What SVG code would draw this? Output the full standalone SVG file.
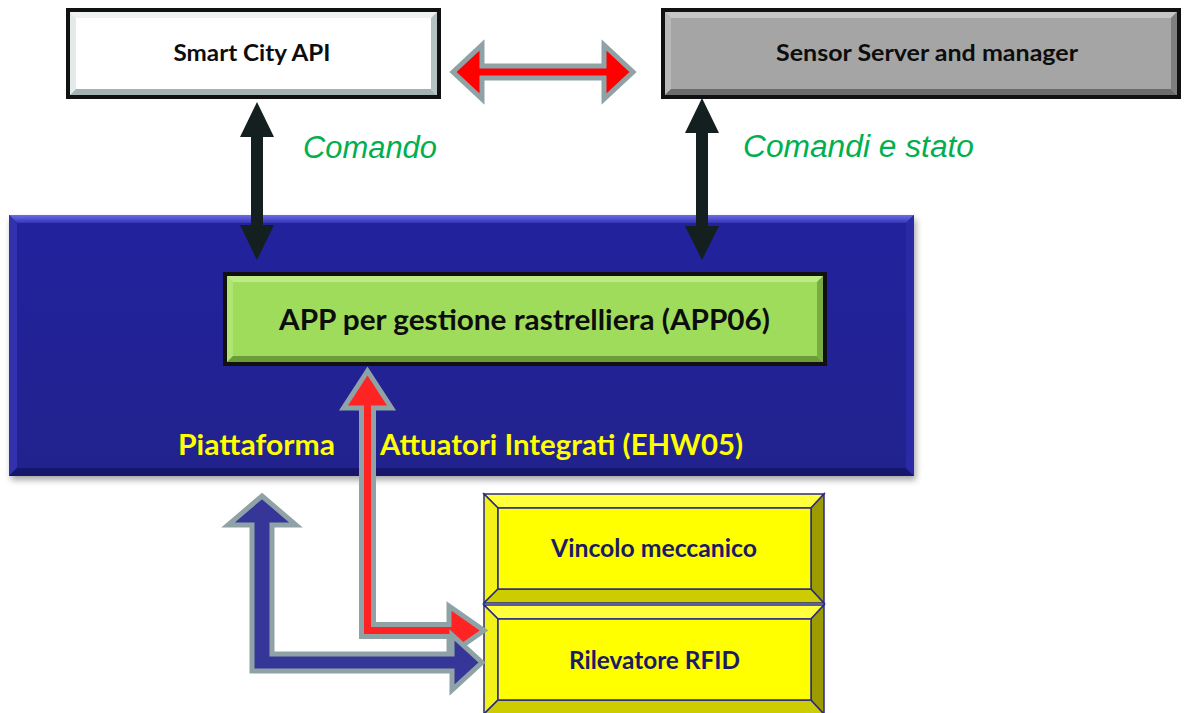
<svg xmlns="http://www.w3.org/2000/svg" width="1186" height="713" viewBox="0 0 1186 713">
  <style>
    .lbl { font-family: Lato, "Open Sans", "Liberation Sans", sans-serif; font-weight: bold; }
    .dark { fill: #0d0d0d; font-size: 22.5px; }
    .app { fill: #0d0d0d; font-size: 28.5px; }
    .plat { fill: #ffff00; font-size: 28.5px; }
    .navy { fill: #1a1a66; font-size: 24px; }
    .flow { font-family: "Liberation Sans", Arial, sans-serif; font-style: italic; font-size: 31px; fill: #00b050; }
    .frame { fill: none; stroke: #111; stroke-width: 4; }
    .ybox { stroke: #2a2a86; stroke-width: 1.5; stroke-linejoin: miter; }
    .fat { stroke: #8fa3a6; stroke-width: 5; stroke-linejoin: miter; }
    .thin { fill: #13201f; }
  </style>
  <defs>
    <filter id="panelShadow" x="-5%" y="-5%" width="110%" height="115%">
      <feDropShadow dx="2" dy="4" stdDeviation="3" flood-color="#000" flood-opacity="0.35"/>
    </filter>
    <linearGradient id="blueTop" x1="0" y1="0" x2="0" y2="1">
      <stop offset="0" stop-color="#6c6cec"/>
      <stop offset="1" stop-color="#3636b4"/>
    </linearGradient>
    <linearGradient id="blueFace" x1="0" y1="0" x2="0" y2="1">
      <stop offset="0" stop-color="#24249e"/>
      <stop offset="1" stop-color="#20208e"/>
    </linearGradient>
  </defs>

  <!-- platform panel -->
  <g id="platform">
    <g filter="url(#panelShadow)">
      <rect x="9" y="215" width="905" height="261" fill="url(#blueFace)"/>
      <polygon points="9,215 914,215 906,223 17,223" fill="url(#blueTop)"/>
      <polygon points="9,215 17,223 17,468 9,476" fill="#3030ac"/>
      <polygon points="9,476 17,468 906,468 914,476" fill="#16166c"/>
      <polygon points="914,215 914,476 906,468 906,223" fill="#2c2ca6"/>
    </g>
    <text class="lbl plat" x="178" y="455" textLength="157" lengthAdjust="spacingAndGlyphs">Piattaforma</text>
    <text class="lbl plat" x="380" y="455" textLength="363" lengthAdjust="spacingAndGlyphs">Attuatori Integrati (EHW05)</text>
  </g>

  <!-- Smart City API -->
  <g id="smart-city-api">
    <rect x="70" y="12" width="367" height="83" fill="#ffffff"/>
    <polygon points="70,12 437,12 431,18 76,18" fill="#eef2f2"/>
    <polygon points="70,12 76,18 76,89 70,95" fill="#e4eaea"/>
    <polygon points="70,95 76,89 431,89 437,95" fill="#a3b2b2"/>
    <polygon points="437,12 437,95 431,89 431,18" fill="#b6c2c2"/>
    <rect class="frame" x="68" y="10" width="371" height="87"/>
    <text class="lbl dark" x="252" y="61" text-anchor="middle" textLength="157" lengthAdjust="spacingAndGlyphs">Smart City API</text>
  </g>

  <!-- Sensor Server and manager -->
  <g id="sensor-server">
    <rect x="665" y="12" width="512" height="83" fill="#a5a5a5"/>
    <polygon points="665,12 1177,12 1171,18 671,18" fill="#c6c6c6"/>
    <polygon points="665,12 671,18 671,89 665,95" fill="#b9b9b9"/>
    <polygon points="665,95 671,89 1171,89 1177,95" fill="#6c6c6c"/>
    <polygon points="1177,12 1177,95 1171,89 1171,18" fill="#7e7e7e"/>
    <rect class="frame" x="663" y="10" width="516" height="87"/>
    <text class="lbl dark" x="927" y="61" text-anchor="middle" textLength="302" lengthAdjust="spacingAndGlyphs">Sensor Server and manager</text>
  </g>

  <!-- application box -->
  <g id="app06">
    <rect x="227" y="276" width="596" height="86" fill="#a0dc5c"/>
    <polygon points="227,276 823,276 817,282 233,282" fill="#bdec86"/>
    <polygon points="227,276 233,282 233,356 227,362" fill="#b0e473"/>
    <polygon points="227,362 233,356 817,356 823,362" fill="#6c9c38"/>
    <polygon points="823,276 823,362 817,356 817,282" fill="#7aac44"/>
    <rect class="frame" x="225" y="274" width="600" height="90"/>
    <text class="lbl app" x="524.5" y="330" text-anchor="middle" textLength="491" lengthAdjust="spacingAndGlyphs">APP per gestione rastrelliera (APP06)</text>
  </g>

  <!-- mechanical lock -->
  <g id="vincolo">
    <polygon class="ybox" points="484,494 824,494 811,508 498,508" fill="#ffff3c"/>
    <polygon class="ybox" points="484,494 498,508 498,589 484,603" fill="#f2f218"/>
    <polygon class="ybox" points="484,603 498,589 811,589 824,603" fill="#cccc00"/>
    <polygon class="ybox" points="824,494 824,603 811,589 811,508" fill="#9c9c00"/>
    <rect class="ybox" x="498" y="508" width="313" height="81" fill="#ffff00"/>
    <text class="lbl navy" x="654" y="557" text-anchor="middle" textLength="206" lengthAdjust="spacingAndGlyphs">Vincolo meccanico</text>
  </g>

  <!-- RFID reader -->
  <g id="rfid">
    <polygon class="ybox" points="484,605 824,605 811,619 498,619" fill="#ffff3c"/>
    <polygon class="ybox" points="484,605 498,619 498,700 484,714" fill="#f2f218"/>
    <polygon class="ybox" points="484,714 498,700 811,700 824,714" fill="#cccc00"/>
    <polygon class="ybox" points="824,605 824,714 811,700 811,619" fill="#9c9c00"/>
    <rect class="ybox" x="498" y="619" width="313" height="81" fill="#ffff00"/>
    <text class="lbl navy" x="654.5" y="669" text-anchor="middle" textLength="171" lengthAdjust="spacingAndGlyphs">Rilevatore RFID</text>
  </g>

  <text class="flow" x="303" y="158" textLength="134" lengthAdjust="spacingAndGlyphs">Comando</text>
  <text class="flow" x="743" y="157" textLength="231" lengthAdjust="spacingAndGlyphs">Comandi e stato</text>

  <!-- connectors -->
  <g id="connectors">
    <!-- API <-> sensor server -->
    <polygon class="fat" fill="#ff0000" points="453,72 482,45 482,66 604,66 604,45 633,72 604,99 604,78 482,78 482,99"/>
    <!-- API <-> app -->
    <polygon class="thin" points="257,102 274,137 263,137 263,225 274,225 257,260 240,225 251,225 251,137 240,137"/>
    <!-- sensor server <-> app -->
    <polygon class="thin" points="702,98 719,133 708,133 708,226 719,226 702,260 685,226 696,226 696,133 685,133"/>
    <!-- app <-> RFID reader -->
    <polygon class="fat" fill="#ff2424" points="367.5,371 391.5,408 373.5,408 373.5,624.5 449,624.5 449,606 484,630.5 449,655 449,636.5 361.5,636.5 361.5,408 343.5,408"/>
    <!-- platform <-> RFID reader -->
    <polygon class="fat" fill="#363698" points="262,496 296,525 272,525 272,654 452,654 452,635 482,662.5 452,690 452,671 252,671 252,525 228,525"/>
  </g>
</svg>
